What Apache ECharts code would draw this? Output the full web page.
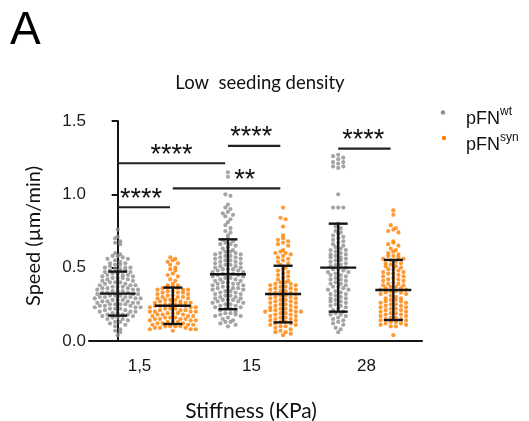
<!DOCTYPE html>
<html><head><meta charset="utf-8">
<script src="https://cdn.jsdelivr.net/npm/echarts@6/dist/echarts.min.js"></script>
<style>html,body{margin:0;padding:0;background:#fff}#c{width:529px;height:421px}</style>
</head><body><div id="c"></div>
<script>
// ---------------- DATA ----------------
const categories = ['1,5', '15', '28'];
const seriesNames = ['pFN wt', 'pFN syn'];
const yTicks = [0.0, 0.5, 1.0, 1.5];

// speeds (µm/min)
const wt_1_5 = [0.76,0.71,0.70,0.68,0.67,0.66,
 0.60,0.59,0.58,0.58,0.57,0.56,0.56,0.55,
 0.54,0.53,0.53,0.52,0.52,0.51,0.50,0.50,0.50,
 0.49,0.49,0.48,0.48,0.47,0.47,0.46,0.46,0.45,0.45,0.45,
 0.44,0.44,0.43,0.43,0.43,0.42,0.42,0.41,0.41,0.40,0.40,0.40,
 0.39,0.39,0.38,0.38,0.38,0.37,0.37,0.37,0.36,0.36,0.36,0.35,0.35,0.35,
 0.34,0.34,0.34,0.33,0.33,0.33,0.32,0.32,0.32,0.31,0.31,0.31,0.30,0.30,0.30,0.30,
 0.29,0.29,0.29,0.28,0.28,0.28,0.27,0.27,0.27,0.26,0.26,0.26,0.25,0.25,0.25,0.25,
 0.24,0.24,0.24,0.23,0.23,0.23,0.22,0.22,0.22,0.21,0.21,0.20,0.20,0.20,
 0.19,0.19,0.18,0.18,0.18,0.17,0.17,0.16,0.16,0.15,0.15,
 0.14,0.13,0.13,0.12,0.11,0.10,
 0.08,0.07,0.06,0.04];
const syn_1_5 = [0.57,0.56,0.55,0.54,0.53,0.52,0.50,0.49,0.48,0.46,0.45,0.44,0.42,0.41,
 0.39,0.38,0.38,0.37,0.37,0.36,0.36,0.35,0.35,0.35,
 0.34,0.34,0.33,0.33,0.33,0.32,0.32,0.31,0.31,0.30,0.30,0.30,
 0.29,0.29,0.28,0.28,0.28,0.27,0.27,0.26,0.26,0.26,0.25,0.25,0.25,0.25,
 0.24,0.24,0.24,0.23,0.23,0.23,0.22,0.22,0.22,0.21,0.21,0.21,0.20,0.20,0.20,0.20,
 0.19,0.19,0.19,0.18,0.18,0.18,0.17,0.17,0.17,0.16,0.16,0.16,0.15,0.15,0.15,0.15,
 0.14,0.14,0.14,0.13,0.13,0.13,0.12,0.12,0.12,0.11,0.11,0.11,0.10,0.10,0.10,0.10,
 0.09,0.09,0.09,0.08,0.08,0.08,0.07];
const wt_15 = [1.15,1.12,1.00,0.99,
 0.93,0.91,0.90,0.88,0.87,0.86,0.85,0.83,0.81,0.79,0.77,0.75,0.74,0.72,
 0.70,0.69,0.68,0.67,0.66,0.66,0.65,0.64,0.63,0.62,0.61,0.61,
 0.60,0.60,0.59,0.59,0.58,0.58,0.57,0.57,0.56,0.56,0.55,0.55,0.54,0.54,0.53,0.53,0.52,0.52,0.51,0.51,
 0.50,0.50,0.49,0.49,0.49,0.48,0.48,0.47,0.47,0.46,0.46,0.46,0.45,0.45,0.44,0.44,0.43,0.43,0.42,0.42,0.41,0.41,
 0.40,0.40,0.39,0.39,0.39,0.38,0.38,0.37,0.37,0.36,0.36,0.36,0.35,0.35,0.34,0.34,0.33,0.33,0.32,0.32,0.31,0.31,
 0.30,0.30,0.29,0.29,0.28,0.28,0.28,0.27,0.27,0.26,0.26,0.25,0.25,0.24,0.24,0.23,0.23,0.22,0.22,0.21,
 0.20,0.19,0.19,0.18,0.18,0.17,0.17,0.16,0.15,
 0.14,0.13,0.13,0.12,0.11,0.10];
const syn_15 = [0.91,0.84,0.83,0.78,
 0.72,0.70,0.69,0.68,0.67,0.66,0.65,
 0.62,0.61,0.60,0.60,0.59,0.58,0.57,0.56,0.55,0.54,0.53,0.52,
 0.50,0.49,0.48,0.47,0.46,0.45,0.44,0.43,0.42,0.41,
 0.40,0.40,0.39,0.39,0.38,0.38,0.37,0.37,0.36,0.36,0.35,0.35,0.34,0.34,0.33,0.33,0.32,0.32,0.31,0.31,0.30,0.30,
 0.29,0.29,0.28,0.28,0.27,0.27,0.26,0.26,0.25,0.25,0.24,0.24,0.23,0.23,0.22,0.22,0.21,0.21,0.20,0.20,0.20,0.21,
 0.19,0.19,0.18,0.18,0.17,0.17,0.16,0.16,0.15,0.15,0.14,0.14,0.13,0.13,0.12,0.12,0.11,0.11,0.10,0.10,
 0.09,0.08,0.07,0.06,0.06,0.05,0.04];
const wt_28 = [1.27,1.26,1.25,1.24,1.22,1.22,1.21,1.19,1.19,1.18,
 1.00,
 0.91,0.91,0.91,
 0.80,0.78,0.77,0.75,0.74,0.73,0.72,0.71,
 0.70,0.69,0.68,0.67,0.66,0.65,0.64,0.63,0.62,0.62,0.61,0.60,
 0.59,0.59,0.58,0.57,0.57,0.56,0.55,0.55,0.54,0.53,0.52,0.52,0.51,0.50,
 0.49,0.49,0.48,0.47,0.47,0.46,0.45,0.45,0.44,0.43,0.42,0.42,0.41,0.40,
 0.39,0.39,0.38,0.37,0.37,0.36,0.35,0.35,0.34,0.33,0.32,0.32,0.31,0.30,
 0.29,0.29,0.28,0.27,0.27,0.26,0.25,0.24,0.24,0.23,0.22,0.21,0.20,
 0.19,0.18,0.18,0.17,0.16,0.15,0.14,0.13,0.12,0.11,
 0.09,0.08,0.06];
const syn_28 = [0.89,0.86,
 0.79,0.77,0.76,0.75,0.74,
 0.68,0.67,0.66,0.65,0.63,0.62,0.61,0.60,
 0.59,0.58,0.58,0.57,0.56,0.56,0.55,0.54,0.53,0.53,0.52,0.51,0.51,0.50,
 0.49,0.49,0.48,0.47,0.47,0.46,0.46,0.45,0.44,0.44,0.43,0.42,0.42,0.41,0.41,0.40,
 0.39,0.39,0.38,0.38,0.37,0.37,0.36,0.36,0.35,0.35,0.34,0.34,0.33,0.33,0.32,0.32,0.31,0.30,
 0.29,0.29,0.28,0.28,0.27,0.27,0.26,0.26,0.25,0.25,0.24,0.24,0.23,0.23,0.22,0.22,0.21,0.21,0.20,0.20,
 0.19,0.19,0.18,0.18,0.17,0.17,0.16,0.16,0.15,0.15,0.14,0.14,0.13,0.13,0.12,0.12,0.11,0.11,0.10,0.10,
 0.04];

// mean and SD per group
const wtMean = [0.323, 0.455, 0.500];
const wtSD   = [0.150, 0.238, 0.300];
const synMean = [0.240, 0.320, 0.348];
const synSD   = [0.124, 0.193, 0.205];

// significance comparisons: group slots 0..5 = wt1,5 syn1,5 wt15 syn15 wt28 syn28
const sigFrom  = [0, 0, 1, 2, 4];
const sigTo    = [1, 2, 3, 3, 5];
const sigLevel = [0.912, 1.212, 1.041, 1.330, 1.311];
const sigLabel = ['****', '****', '**', '****', '****'];

// ---------------- LAYOUT / STYLE ----------------
const GRID = {left: 89, top: 121, width: 333, height: 220};
const XMIN = -0.52, XMAX = 5.52, YMAX = 1.5;
const pxY = GRID.height / YMAX, pxX = GRID.width / (XMAX - XMIN);
const GREY = '#8e8e8e', ORANGE = '#ff8000', INK = '#141414';
const sigLabelShift = [-0.05, 0, 0.33, -0.05, -0.02];

function swarm(values, slot) {
  const rowH = 4.4, gap = 5.1;
  const rows = new Map();
  values.forEach(v => {
    const r = Math.round(v * pxY / rowH);
    if (!rows.has(r)) rows.set(r, []);
    rows.get(r).push(v);
  });
  const pts = [];
  rows.forEach(arr => {
    arr.sort((a, b) => b - a);
    const n = arr.length;
    const offs = [];
    for (let k = 0; k < n; k++) offs.push(k - (n - 1) / 2);
    offs.sort((a, b) => Math.abs(a) - Math.abs(b) || a - b);
    arr.forEach((v, k) => pts.push([slot + offs[k] * gap / pxX, v]));
  });
  return pts;
}

const wtGroups = [wt_1_5, wt_15, wt_28];
const synGroups = [syn_1_5, syn_15, syn_28];
const wtPts = [].concat(...wtGroups.map((g, i) => swarm(g, 2 * i)));
const synPts = [].concat(...synGroups.map((g, i) => swarm(g, 2 * i + 1)));

const errData = [];
for (let i = 0; i < 3; i++) {
  errData.push([2 * i, wtMean[i], wtSD[i]]);
  errData.push([2 * i + 1, synMean[i], synSD[i]]);
}
const sigData = sigFrom.map((f, i) => [f, sigTo[i] - 0.05, sigLevel[i], i]);

const chart = echarts.init(document.getElementById('c'), null, {renderer: 'canvas'});
const lbl = 'Liberation Sans';
const catShift = [10, 8, 0];
chart.setOption({
  animation: false,
  backgroundColor: '#fff',
  grid: GRID,
  xAxis: [{
    type: 'value', min: XMIN, max: XMAX,
    axisLine: {show: true, onZero: false, lineStyle: {color: INK, width: 2}},
    axisTick: {show: false}, axisLabel: {show: false}, splitLine: {show: false}
  }, {
    type: 'category', position: 'bottom',
    data: categories.map((c, i) => ({value: c, textStyle: {padding: [0, catShift[i], 0, 0]}})),
    axisLine: {show: false}, axisTick: {show: false}, splitLine: {show: false},
    axisLabel: {fontFamily: lbl, fontSize: 17, color: INK, margin: 17}
  }],
  yAxis: {
    type: 'value', min: 0, max: YMAX, interval: 0.5,
    axisLine: {show: true, lineStyle: {color: INK, width: 2}},
    axisTick: {show: true, length: 6, lineStyle: {color: INK, width: 2}},
    axisLabel: {fontFamily: lbl, fontSize: 17, color: '#1e1e1e', margin: 3,
      formatter: v => yTicks.find(t => Math.abs(t - v) < 1e-6).toFixed(1)},
    splitLine: {show: false}
  },
  series: [{
    name: seriesNames[0], type: 'scatter', data: wtPts, symbolSize: 4.2,
    itemStyle: {color: GREY}, z: 2
  }, {
    name: seriesNames[1], type: 'scatter', data: synPts, symbolSize: 4.2,
    itemStyle: {color: ORANGE}, z: 2
  }, {
    type: 'custom', data: errData, z: 5, silent: true,
    renderItem: (p, api) => {
      const x = api.value(0), m = api.value(1), s = api.value(2);
      const c = api.coord([x, m]), t = api.coord([x, m + s]), b = api.coord([x, m - s]);
      const st = {stroke: INK, lineWidth: 2.4};
      return {type: 'group', children: [
        {type: 'line', shape: {x1: c[0] - 18, y1: c[1], x2: c[0] + 18, y2: c[1]}, style: st},
        {type: 'line', shape: {x1: t[0], y1: t[1], x2: b[0], y2: b[1]}, style: st},
        {type: 'line', shape: {x1: t[0] - 9.5, y1: t[1], x2: t[0] + 9.5, y2: t[1]}, style: st},
        {type: 'line', shape: {x1: b[0] - 9.5, y1: b[1], x2: b[0] + 9.5, y2: b[1]}, style: st}
      ]};
    }
  }, {
    type: 'custom', data: sigData, z: 5, silent: true,
    renderItem: (p, api) => {
      const a = api.coord([api.value(0), api.value(2)]);
      const b = api.coord([api.value(1), api.value(2)]);
      const k = api.value(3);
      const mid = api.coord([(api.value(0) + api.value(1)) / 2 + sigLabelShift[k], api.value(2)]);
      return {type: 'group', children: [
        {type: 'line', shape: {x1: a[0], y1: a[1], x2: b[0], y2: b[1]}, style: {stroke: '#222', lineWidth: 2.2}},
        {type: 'text', x: mid[0], y: a[1] - 8, style: {text: sigLabel[k], fontFamily: lbl, fontSize: 27,
          fill: '#111', align: 'center', verticalAlign: 'middle'}}
      ]};
    }
  }],
  graphic: [
    {type: 'text', left: 10, top: 8, style: {text: 'A', fontFamily: lbl, fontSize: 46, fill: '#000'}},
    {type: 'text', x: 260, y: 83, style: {text: 'Low  seeding density', fontFamily: 'Lato', fontSize: 18.5, fill: '#111', align: 'center', verticalAlign: 'middle'}},
    {type: 'text', x: 251, y: 411, style: {text: 'Stiffness (KPa)', fontFamily: 'Lato', fontSize: 21, fill: '#111', align: 'center', verticalAlign: 'middle'}},
    {type: 'text', x: 34, y: 236, rotation: Math.PI / 2, style: {text: 'Speed (µm/min)', fontFamily: 'Lato', fontSize: 20, fill: '#111', align: 'center', verticalAlign: 'middle'}},
    {type: 'circle', shape: {cx: 443, cy: 112.5, r: 2.2}, style: {fill: GREY}},
    {type: 'circle', shape: {cx: 444, cy: 138, r: 2.2}, style: {fill: ORANGE}},
    {type: 'text', x: 466, y: 117, style: {text: '{a|pFN}{b|wt}', verticalAlign: 'middle',
      rich: {a: {fontFamily: lbl, fontSize: 18, fill: '#111', verticalAlign: 'bottom', lineHeight: 22},
             b: {fontFamily: lbl, fontSize: 12, fill: '#111', verticalAlign: 'top', lineHeight: 22}}}},
    {type: 'text', x: 466, y: 143, style: {text: '{a|pFN}{b|syn}', verticalAlign: 'middle',
      rich: {a: {fontFamily: lbl, fontSize: 18, fill: '#111', verticalAlign: 'bottom', lineHeight: 22},
             b: {fontFamily: lbl, fontSize: 12, fill: '#111', verticalAlign: 'top', lineHeight: 22}}}}
  ]
});
</script></body></html>
